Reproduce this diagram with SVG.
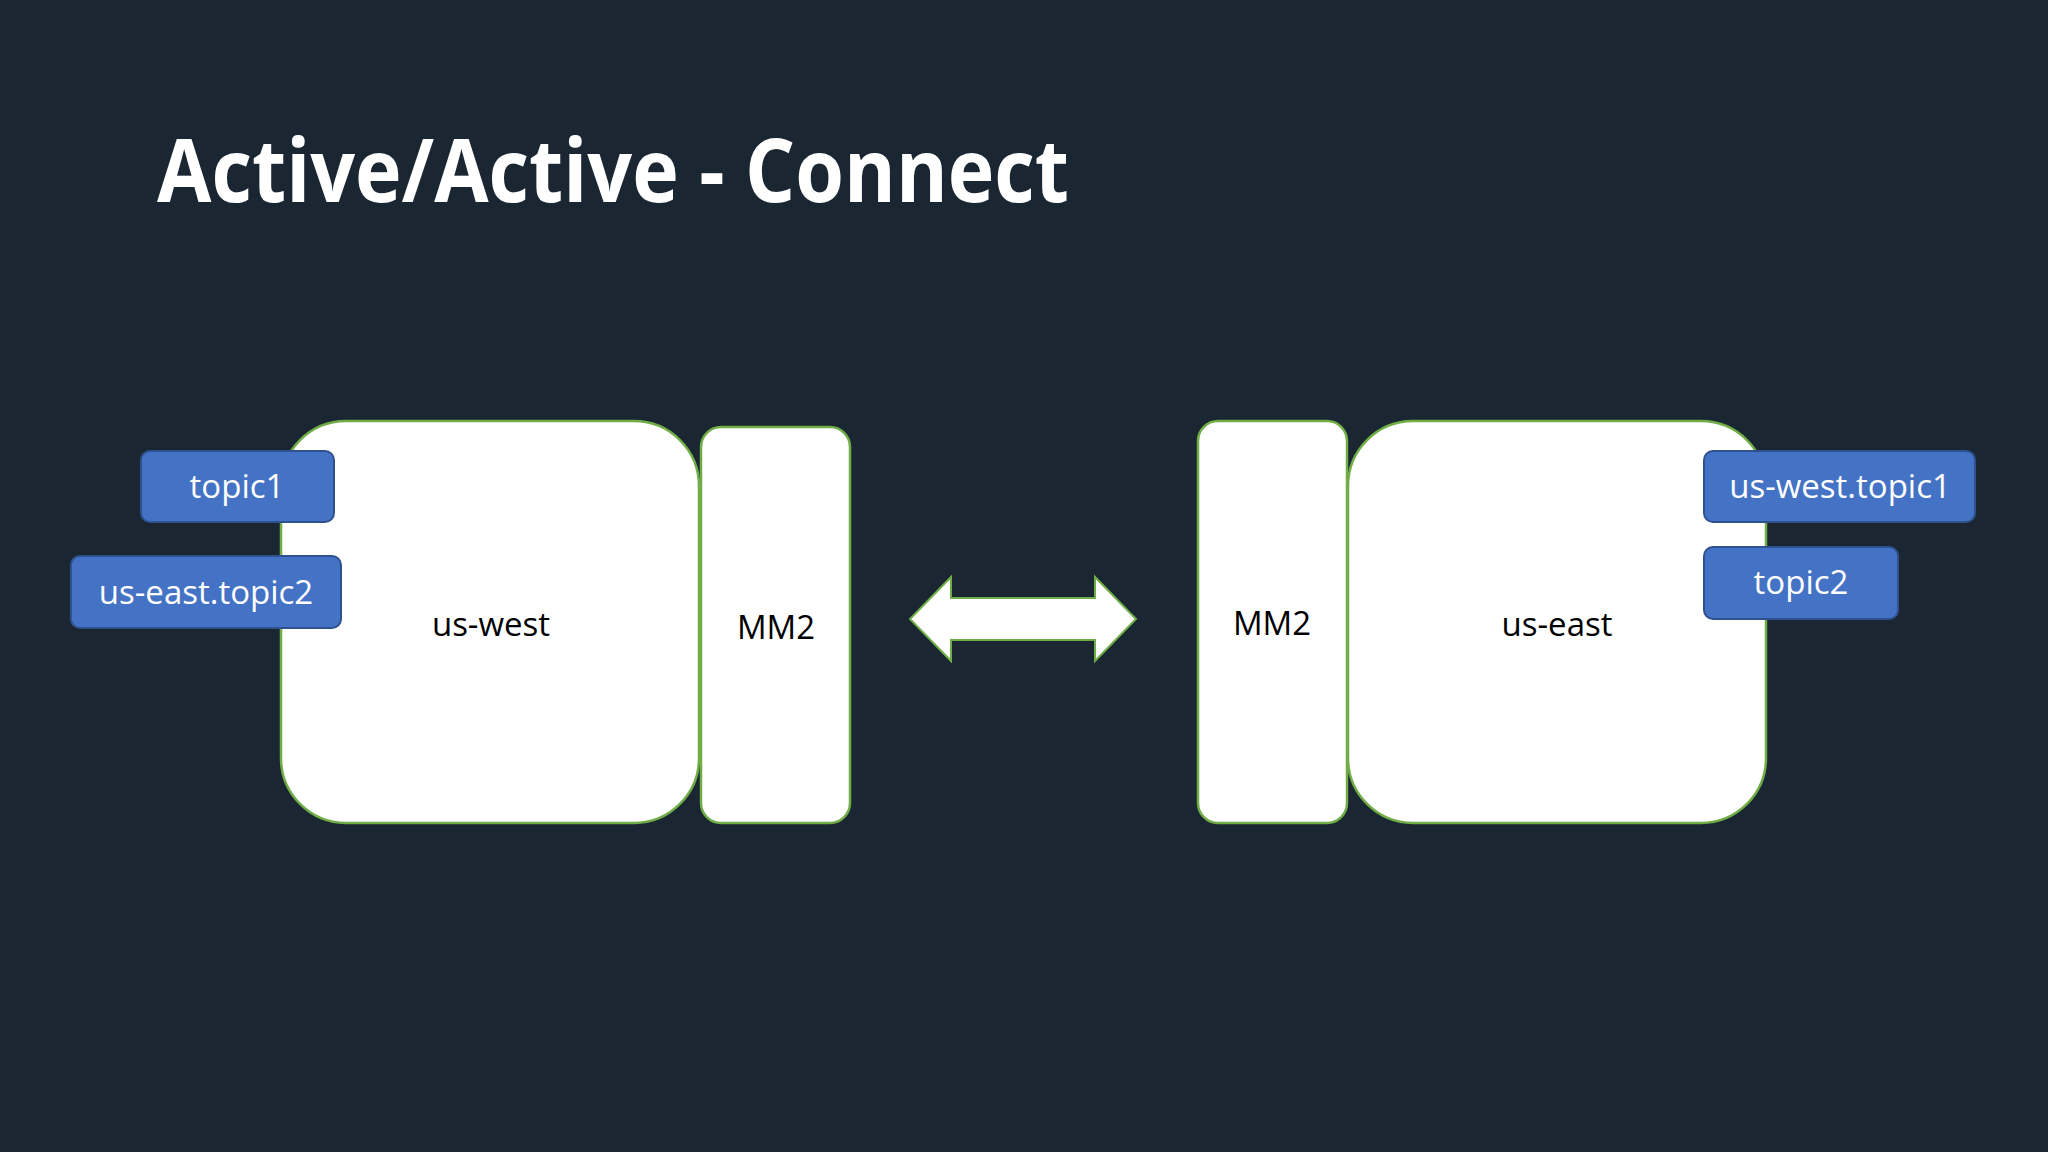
<svg xmlns="http://www.w3.org/2000/svg" width="2048" height="1152" viewBox="0 0 2048 1152">
<style>
.c{fill:#fff;stroke:#70ad47;stroke-width:2.5}
.t{fill:#4472c4;stroke:#2f528f;stroke-width:2}
.l{font-family:"Open Sans","Liberation Sans",sans-serif;font-size:33px;text-anchor:middle}
.w{fill:#fff}
.k{fill:#000}
</style>
<rect width="2048" height="1152" fill="#1b2633"/>
<text x="157" y="202" font-family="Open Sans,Liberation Sans,sans-serif" font-weight="bold" font-size="88" fill="#fff" textLength="912" lengthAdjust="spacingAndGlyphs">Active/Active - Connect</text>
<g id="us-west"><rect class="c" x="281" y="421" width="418" height="402" rx="65"/><text class="l k" x="491" y="636">us-west</text></g>
<g id="mm2-left"><rect class="c" x="701" y="427" width="149" height="396" rx="20"/><text class="l k" x="776" y="639">MM2</text></g>
<g id="mm2-right"><rect class="c" x="1198" y="421" width="149" height="402" rx="20"/><text class="l k" x="1272" y="635">MM2</text></g>
<g id="us-east"><rect class="c" x="1348" y="421" width="418" height="402" rx="65"/><text class="l k" x="1557" y="636">us-east</text></g>
<g id="topic1"><rect class="t" x="141" y="451" width="193" height="71" rx="9"/><text class="l w" x="237" y="498">topic1</text></g>
<g id="us-east-topic2"><rect class="t" x="71" y="556" width="270" height="72" rx="9"/><text class="l w" x="206" y="604">us-east.topic2</text></g>
<g id="us-west-topic1"><rect class="t" x="1704" y="451" width="271" height="71" rx="9"/><text class="l w" x="1840" y="498">us-west.topic1</text></g>
<g id="topic2"><rect class="t" x="1704" y="547" width="194" height="72" rx="9"/><text class="l w" x="1801" y="594">topic2</text></g>
<g id="connectors"><path d="M910 619 L951 577 L951 598 L1095 598 L1095 577 L1136 619 L1095 661 L1095 640 L951 640 L951 661 Z" fill="#fff" stroke="#70ad47" stroke-width="2"/></g>
</svg>
